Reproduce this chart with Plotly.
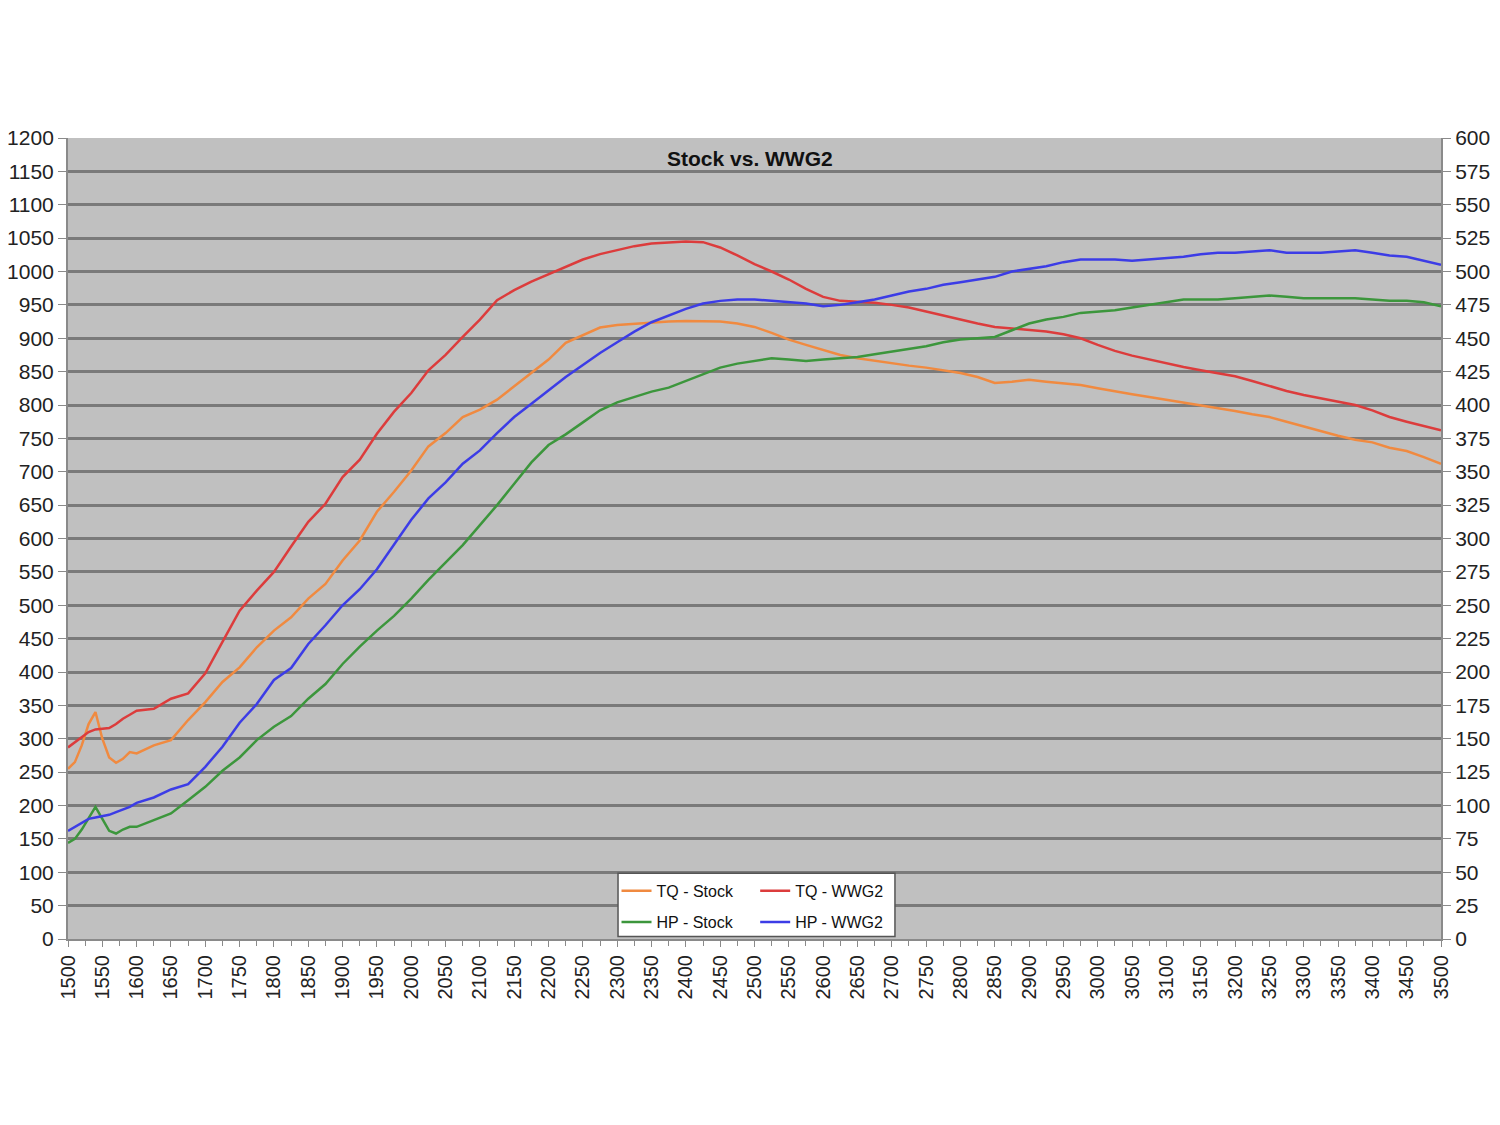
import plotly.graph_objects as go

# engine speed (rpm)
rpm = [1500, 1510, 1520, 1530, 1540, 1550, 1560, 1570, 1580, 1590, 1600,
       1625, 1650, 1675, 1700, 1725, 1750, 1775, 1800, 1825, 1850, 1875,
       1900, 1925, 1950, 1975, 2000, 2025, 2050, 2075, 2100, 2125, 2150,
       2175, 2200, 2225, 2250, 2275, 2300, 2325, 2350, 2375, 2400, 2425,
       2450, 2475, 2500, 2525, 2550, 2575, 2600, 2625, 2650, 2675, 2700,
       2725, 2750, 2775, 2800, 2825, 2850, 2875, 2900, 2925, 2950, 2975,
       3000, 3025, 3050, 3075, 3100, 3125, 3150, 3175, 3200, 3225, 3250,
       3275, 3300, 3325, 3350, 3375, 3400, 3425, 3450, 3475, 3500]

# torque, left axis
tq_stock = [255, 265, 290, 322, 340, 300, 272, 264, 270, 280, 278,
            290, 298, 328, 355, 385, 407, 437, 462, 482, 510, 532,
            567, 597, 640, 670, 702, 738, 758, 782, 793, 808, 828,
            848, 868, 893, 904, 916, 920, 922, 924, 925, 926, 926,
            925, 922, 917, 908, 898, 890, 882, 875, 870, 866, 862,
            859, 856, 852, 848, 842, 833, 835, 838, 835, 832, 830,
            825, 820, 816, 812, 808, 804, 800, 796, 791, 786, 782,
            775, 768, 760, 754, 748, 744, 736, 731, 722, 712]
tq_wwg2 = [287, 295, 303, 310, 314, 315, 316, 322, 330, 336, 342,
           345, 360, 368, 398, 445, 492, 522, 550, 588, 625, 652,
           692, 718, 757, 790, 818, 852, 875, 902, 928, 957, 972,
           985, 996, 1008, 1018, 1026, 1032, 1038, 1042, 1044, 1045, 1044,
           1036, 1024, 1011, 1000, 988, 974, 962, 956, 955, 953, 950,
           946, 940, 934, 927, 922, 917, 915, 912, 910, 906, 900,
           890, 881, 874, 868, 862, 857, 852, 848, 843, 836, 828,
           821, 815, 810, 805, 800, 792, 782, 775, 768, 762]

# horsepower, right axis
hp_stock = [72, 75, 82, 90, 99, 90, 81, 79, 82, 84, 84,
            89, 94, 104, 114, 126, 136, 149, 159, 167, 180, 191,
            206, 219, 231, 242, 255, 269, 282, 295, 310, 325, 341,
            357, 370, 378, 387, 396, 402, 406, 410, 413, 418, 423,
            428, 431, 433, 435, 434, 433, 434, 435, 436, 438, 440,
            442, 444, 447, 449, 450, 451, 456, 461, 464, 466, 469,
            470, 471, 473, 475, 477, 479, 479, 479, 480, 481, 482,
            481, 480, 480, 480, 480, 479, 478, 478, 477, 474]
hp_wwg2 = [81, 84, 87, 90, 91, 92, 93, 95, 97, 99, 102,
           106, 112, 116, 129, 144, 162, 176, 194, 203, 221, 235,
           250, 262, 277, 296, 314, 330, 342, 356, 366, 379, 391,
           401, 411, 421, 430, 439, 447, 455, 462, 467, 472, 476,
           478, 479, 479, 478, 477, 476, 474, 475, 477, 479, 482,
           485, 487, 490, 492, 494, 496, 500, 502, 504, 507, 509,
           509, 509, 508, 509, 510, 511, 513, 514, 514, 515, 516,
           514, 514, 514, 515, 516, 514, 512, 511, 508, 505]

FONT = "Liberation Sans, Arial, sans-serif"
AXIS_GRAY = "#8a8a8a"

series = [
    ("TQ - Stock", tq_stock, "y", "#f08a40", "legend"),
    ("TQ - WWG2", tq_wwg2, "y", "#dc3c3c", "legend2"),
    ("HP - Stock", hp_stock, "y2", "#3c963c", "legend3"),
    ("HP - WWG2", hp_wwg2, "y2", "#3c3ce6", "legend4"),
]

fig = go.Figure()
for name, vals, yax, color, leg in series:
    fig.add_trace(go.Scatter(x=rpm, y=vals, name=name, yaxis=yax, mode="lines",
                             line=dict(color=color, width=2.5), legend=leg))

# one legend per entry so they sit in a 2x2 grid inside one box
leg_style = dict(bgcolor="rgba(0,0,0,0)", borderwidth=0, xanchor="left", yanchor="middle",
                 font=dict(family=FONT, size=16, color="#111"), itemwidth=30)
fig.update_layout(
    legend=dict(x=0.3995, y=0.06, **leg_style),
    legend2=dict(x=0.5005, y=0.06, **leg_style),
    legend3=dict(x=0.3995, y=0.021, **leg_style),
    legend4=dict(x=0.5005, y=0.021, **leg_style),
)
fig.add_shape(type="rect", xref="paper", yref="paper", x0=0.4006, x1=0.6023, y0=0.003, y1=0.082,
              fillcolor="white", line=dict(color="#555", width=1.5), layer="above")

fig.add_annotation(text="<b>Stock vs. WWG2</b>", xref="paper", yref="paper", x=0.497, y=0.975,
                   xanchor="center", yanchor="middle", showarrow=False,
                   font=dict(family=FONT, size=21, color="#111"))

# the page adds an 8px body margin, so the figure is a little smaller than the window
fig.update_layout(
    width=1484, height=1109,
    paper_bgcolor="white", plot_bgcolor="#c0c0c0",
    margin=dict(l=60, r=51, t=130, b=178),
    showlegend=True,
    xaxis=dict(range=[1500, 3500], dtick=50, tickangle=-90, showgrid=False, automargin=False,
               ticks="outside", ticklen=6, tickcolor=AXIS_GRAY,
               minor=dict(dtick=25, ticks="outside", ticklen=5, tickcolor=AXIS_GRAY),
               showline=True, linecolor=AXIS_GRAY, linewidth=2, zeroline=False,
               tickfont=dict(family=FONT, size=20, color="#222")),
    yaxis=dict(range=[0, 1200], dtick=50, showgrid=True, gridcolor="#7a7a7a", gridwidth=2.5,
               ticks="outside", ticklen=8, tickcolor=AXIS_GRAY, automargin=False,
               showline=True, linecolor=AXIS_GRAY, linewidth=2, zeroline=False,
               tickfont=dict(family=FONT, size=21, color="#222")),
    yaxis2=dict(range=[0, 600], dtick=25, overlaying="y", side="right", showgrid=False,
                ticks="outside", ticklen=8, tickcolor=AXIS_GRAY, automargin=False,
                showline=True, linecolor=AXIS_GRAY, linewidth=2, zeroline=False,
                tickfont=dict(family=FONT, size=21, color="#222")),
)

fig.write_html("out.html")
